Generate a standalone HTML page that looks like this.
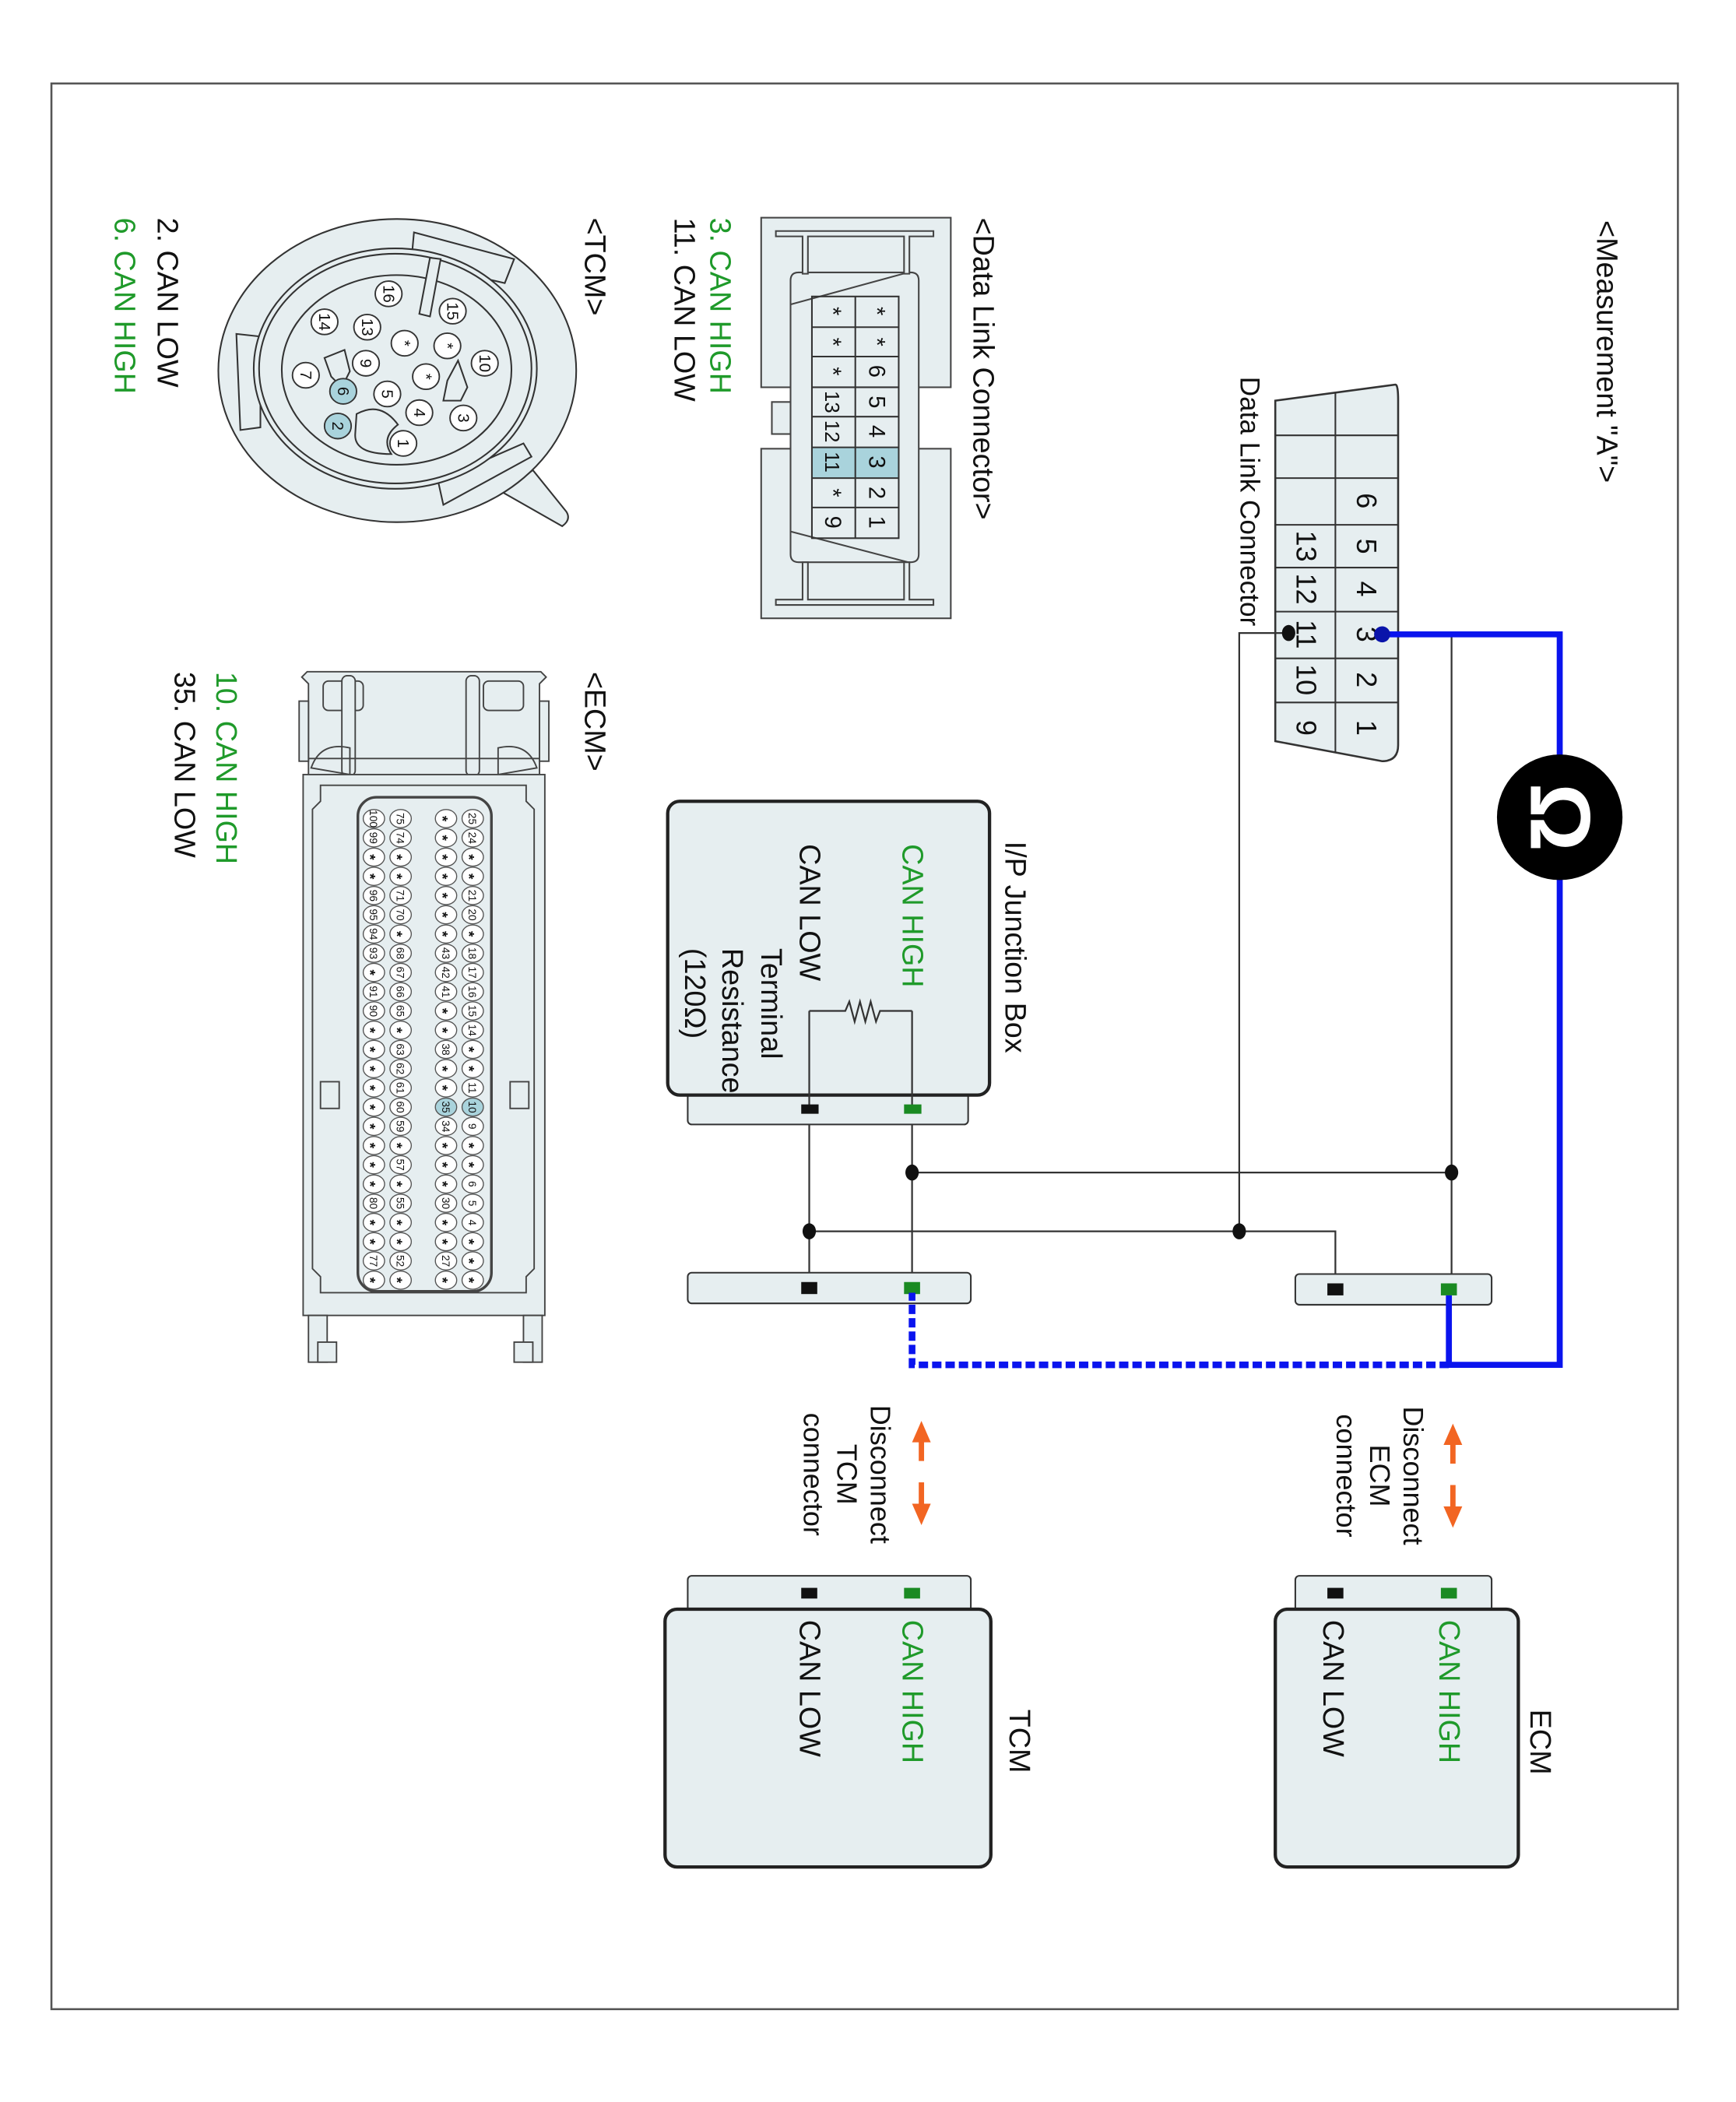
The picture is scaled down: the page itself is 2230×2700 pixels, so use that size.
<!DOCTYPE html>
<html><head><meta charset="utf-8"><style>
html,body{margin:0;padding:0;background:#fff;}
svg{display:block;}
text{font-family:"Liberation Sans",sans-serif;}
.p{font-size:8px;fill:#111;}
.s{font-size:11px;font-weight:bold;}
.t{font-size:22px;fill:#111;}
.g{font-size:22px;fill:#1f9a2a;}
</style></head><body>
<svg width="2230" height="2700" viewBox="0 0 1300 1574" xmlns="http://www.w3.org/2000/svg">
<rect x="0" y="0" width="1300" height="1574" fill="#fff"/>
<rect x="38.5" y="62.5" width="1218" height="1442" fill="none" stroke="#555" stroke-width="1.5"/>

<!-- Measurement A -->
<text class="t" transform="translate(1196,165) rotate(90)">&lt;Measurement "A"&gt;</text>
<path d="M955,300 L1045,288 Q1047,288 1047,300 L1047,558 Q1047,570 1035,570 L955,555 Z" fill="#e6eef0" stroke="#333" stroke-width="1.5"/>
<line x1="1000" y1="294" x2="1000" y2="563" stroke="#333" stroke-width="1.2"/>
<g stroke="#333" stroke-width="1.2">
<line x1="955" y1="326" x2="1047" y2="326"/><line x1="955" y1="358" x2="1047" y2="358"/>
<line x1="955" y1="393" x2="1047" y2="393"/><line x1="955" y1="425" x2="1047" y2="425"/>
<line x1="955" y1="458" x2="1047" y2="458"/><line x1="955" y1="493" x2="1047" y2="493"/>
<line x1="955" y1="526" x2="1047" y2="526"/>
</g>
<g style="font-size:21px" fill="#111" text-anchor="middle">
<text transform="translate(1016,375) rotate(90)">6</text>
<text transform="translate(1016,409) rotate(90)">5</text>
<text transform="translate(1016,441) rotate(90)">4</text>
<text transform="translate(1016,475) rotate(90)">3</text>
<text transform="translate(1016,509) rotate(90)">2</text>
<text transform="translate(1016,545) rotate(90)">1</text>
<text transform="translate(971,409) rotate(90)">13</text>
<text transform="translate(971,441) rotate(90)">12</text>
<text transform="translate(971,475) rotate(90)">11</text>
<text transform="translate(971,509) rotate(90)">10</text>
<text transform="translate(971,545) rotate(90)">9</text>
</g>
<text transform="translate(929,282) rotate(90)" style="font-size:20.5px" fill="#111">Data Link Connector</text>

<!-- wires -->
<g stroke="#333" stroke-width="1.3" fill="none">
<polyline points="965,474 928,474 928,922"/>
<line x1="1087" y1="475" x2="1087" y2="965"/>
<line x1="683" y1="878" x2="1087" y2="878"/>
<polyline points="606,922 1000,922 1000,965"/>
<line x1="683" y1="757" x2="683" y2="965"/>
<line x1="606" y1="757" x2="606" y2="965"/>
</g>
<g fill="#111">
<ellipse cx="965" cy="474" rx="5" ry="6"/>
<ellipse cx="1087" cy="878" rx="5" ry="6"/>
<ellipse cx="683" cy="878" rx="5" ry="6"/>
<ellipse cx="928" cy="922" rx="5" ry="6"/>
<ellipse cx="606" cy="922" rx="5" ry="6"/>
</g>

<!-- IP junction box -->
<rect x="515" y="818" width="210" height="24" rx="3" fill="#e6eef0" stroke="#333" stroke-width="1.2"/>
<rect x="500" y="600" width="241" height="220" rx="9" fill="#e6eef0" stroke="#222" stroke-width="2.5"/>
<line x1="683" y1="757" x2="683" y2="830" stroke="#333" stroke-width="1.3"/>
<line x1="606" y1="757" x2="606" y2="830" stroke="#333" stroke-width="1.3"/>
<polyline points="606,757 633,757 636,750 640,765 644,750 648,765 652,750 656,765 659,757 683,757" fill="none" stroke="#333" stroke-width="1.3"/>
<rect x="677" y="827" width="13" height="7" fill="#1a8a22"/>
<rect x="600" y="827" width="13" height="7" fill="#111"/>
<text class="t" transform="translate(753,630) rotate(90)">I/P Junction Box</text>
<text class="g" transform="translate(676,632) rotate(90)">CAN HIGH</text>
<text class="t" transform="translate(599,632) rotate(90)">CAN LOW</text>
<text class="t" transform="translate(570,710) rotate(90)">Terminal</text>
<text class="t" transform="translate(541,710) rotate(90)">Resistance</text>
<text class="t" transform="translate(513,710) rotate(90)">(120Ω)</text>

<!-- lower connector strips -->
<rect x="970" y="954" width="147" height="23" rx="3" fill="#e6eef0" stroke="#333" stroke-width="1.2"/>
<rect x="515" y="953" width="212" height="23" rx="3" fill="#e6eef0" stroke="#333" stroke-width="1.2"/>
<rect x="994" y="961" width="12" height="9" fill="#111"/>
<rect x="1079" y="961" width="12" height="9" fill="#1a8a22"/>
<rect x="600" y="960" width="12" height="9" fill="#111"/>
<rect x="677" y="960" width="12" height="9" fill="#1a8a22"/>

<!-- blue measurement wire -->
<polyline points="1035,475 1168,475 1168,1022 1085,1022 1085,970" fill="none" stroke="#0a14ee" stroke-width="4.5"/>
<polyline points="1085,1022 683,1022 683,968" fill="none" stroke="#0a14ee" stroke-width="5" stroke-dasharray="7,3"/>
<ellipse cx="1035" cy="475" rx="6" ry="6" fill="#0a14aa"/>
<circle cx="1168" cy="612" r="47" fill="#000"/>
<text transform="translate(1168,612) rotate(90)" text-anchor="middle" dominant-baseline="central" style="font-size:64px;font-weight:bold" fill="#fff">Ω</text>

<!-- orange arrows -->
<g stroke="#f26522" stroke-width="4" fill="#f26522">
<line x1="1088" y1="1080" x2="1088" y2="1096"/><line x1="1088" y1="1112" x2="1088" y2="1130"/>
<polygon points="1088,1066 1081,1082 1095,1082" stroke="none"/>
<polygon points="1088,1144 1081,1128 1095,1128" stroke="none"/>
<line x1="690" y1="1078" x2="690" y2="1094"/><line x1="690" y1="1110" x2="690" y2="1128"/>
<polygon points="690,1064 683,1080 697,1080" stroke="none"/>
<polygon points="690,1142 683,1126 697,1126" stroke="none"/>
</g>
<g style="font-size:21px" fill="#111" text-anchor="middle">
<text transform="translate(1051,1105) rotate(90)">Disconnect</text>
<text transform="translate(1026,1105) rotate(90)">ECM</text>
<text transform="translate(1001,1105) rotate(90)">connector</text>
<text transform="translate(652,1104) rotate(90)">Disconnect</text>
<text transform="translate(627,1104) rotate(90)">TCM</text>
<text transform="translate(602,1104) rotate(90)">connector</text>
</g>

<!-- ECM / TCM boxes -->
<rect x="970" y="1180" width="147" height="28" rx="3" fill="#e6eef0" stroke="#333" stroke-width="1.2"/>
<rect x="955" y="1205" width="182" height="193" rx="9" fill="#e6eef0" stroke="#222" stroke-width="2.5"/>
<rect x="994" y="1189" width="12" height="8" fill="#111"/>
<rect x="1079" y="1189" width="12" height="8" fill="#1a8a22"/>
<text class="t" transform="translate(1146,1280) rotate(90)">ECM</text>
<text class="g" transform="translate(1078,1213) rotate(90)">CAN HIGH</text>
<text class="t" transform="translate(991,1213) rotate(90)">CAN LOW</text>

<rect x="515" y="1180" width="212" height="28" rx="3" fill="#e6eef0" stroke="#333" stroke-width="1.2"/>
<rect x="498" y="1205" width="244" height="193" rx="9" fill="#e6eef0" stroke="#222" stroke-width="2.5"/>
<rect x="600" y="1189" width="12" height="8" fill="#111"/>
<rect x="677" y="1189" width="12" height="8" fill="#1a8a22"/>
<text class="t" transform="translate(756,1280) rotate(90)">TCM</text>
<text class="g" transform="translate(676,1213) rotate(90)">CAN HIGH</text>
<text class="t" transform="translate(599,1213) rotate(90)">CAN LOW</text>

<!-- Data Link Connector drawing -->
<text class="t" transform="translate(729,163) rotate(90)">&lt;Data Link Connector&gt;</text>
<g fill="#e6eef0" stroke="#444" stroke-width="1.2">
<rect x="570" y="163" width="142" height="127"/>
<rect x="570" y="336" width="142" height="127"/>
<rect x="578" y="301" width="14" height="24"/>
<path d="M592,210 Q592,204 598,204 L682,204 Q688,204 688,210 L688,415 Q688,421 682,421 L598,421 Q592,421 592,415 Z"/>
<path d="M592,228 L680,204 M592,398 L680,421" fill="none"/>
<path d="M581,173 L699,173 L699,177 L681,177 L681,205 L677,205 L677,177 L605,177 L605,205 L601,205 L601,177 L581,177 Z" fill="#e6eef0"/>
<path d="M581,453 L699,453 L699,449 L681,449 L681,421 L677,421 L677,449 L605,449 L605,421 L601,421 L601,449 L581,449 Z" fill="#e6eef0"/>
</g>
<rect x="608" y="335" width="65" height="23" fill="#a9d3dc"/>
<g stroke="#333" stroke-width="1.2" fill="none">
<rect x="608" y="222" width="65" height="181"/>
<line x1="640.5" y1="222" x2="640.5" y2="403"/>
<line x1="608" y1="245" x2="673" y2="245"/><line x1="608" y1="267" x2="673" y2="267"/>
<line x1="608" y1="290" x2="673" y2="290"/><line x1="608" y1="312" x2="673" y2="312"/>
<line x1="608" y1="335" x2="673" y2="335"/><line x1="608" y1="358" x2="673" y2="358"/>
<line x1="608" y1="380" x2="673" y2="380"/>
</g>
<g style="font-size:17px" fill="#111" text-anchor="middle">
<text transform="translate(651,233) rotate(90)">*</text>
<text transform="translate(651,256) rotate(90)">*</text>
<text transform="translate(651,278) rotate(90)">6</text>
<text transform="translate(651,301) rotate(90)">5</text>
<text transform="translate(651,323) rotate(90)">4</text>
<text transform="translate(651,346) rotate(90)">3</text>
<text transform="translate(651,369) rotate(90)">2</text>
<text transform="translate(651,391) rotate(90)">1</text>
<text transform="translate(618,233) rotate(90)">*</text>
<text transform="translate(618,256) rotate(90)">*</text>
<text transform="translate(618,278) rotate(90)">*</text>
<text transform="translate(618,301) rotate(90)" style="font-size:15px">13</text>
<text transform="translate(618,323) rotate(90)" style="font-size:15px">12</text>
<text transform="translate(618,346) rotate(90)" style="font-size:15px">11</text>
<text transform="translate(618,369) rotate(90)">*</text>
<text transform="translate(618,391) rotate(90)">9</text>
</g>
<text class="g" transform="translate(532,163) rotate(90)">3. CAN HIGH</text>
<text class="t" transform="translate(505,163) rotate(90)">11. CAN LOW</text>

<!-- TCM connector -->
<text class="t" transform="translate(438,163) rotate(90)">&lt;TCM&gt;</text>
<g stroke="#333" stroke-width="1.2" fill="#e6eef0">
<path d="M377,369 L421,394 Q428,389 424,383 L399,352 Z"/>
<ellipse cx="297.5" cy="277.5" rx="134" ry="113.5"/>
<path d="M310,174 L385,194 L378,212 L308,196 Z"/>
<path d="M177,250 L195,252 L195,320 L180,322 Z"/>
<path d="M328,360 L392,332 L398,342 L332,378 Z"/>
<ellipse cx="296" cy="276" rx="106" ry="90"/>
<ellipse cx="296" cy="276" rx="102" ry="86"/>
<ellipse cx="297" cy="277" rx="86" ry="71"/>
<path d="M322,193 L330,194 L322,237 L314,235 Z"/>
<path d="M258,262 L243,268 L248,282 L256,290 L262,278 Z" />
<path d="M343,270 L350,290 L345,300 L332,300 L335,285 Z"/>
<path d="M267,310 Q285,300 298,318 Q285,328 293,340 Q265,340 266,325 Z"/>
</g>
<g stroke="#333" stroke-width="1.1" fill="#fff">
<ellipse cx="291" cy="220" rx="10" ry="9.5"/>
<ellipse cx="339" cy="233" rx="10" ry="9.5"/>
<ellipse cx="243" cy="241" rx="10" ry="9.5"/>
<ellipse cx="275" cy="245" rx="10" ry="9.5"/>
<ellipse cx="303" cy="257" rx="10" ry="9.5"/>
<ellipse cx="335" cy="259" rx="10" ry="9.5"/>
<ellipse cx="363" cy="272" rx="10" ry="9.5"/>
<ellipse cx="274" cy="272" rx="10" ry="9.5"/>
<ellipse cx="229" cy="281" rx="10" ry="9.5"/>
<ellipse cx="319" cy="282" rx="10" ry="9.5"/>
<ellipse cx="257" cy="293" rx="10" ry="9.5" fill="#a9d3dc"/>
<ellipse cx="290" cy="295" rx="10" ry="9.5"/>
<ellipse cx="314" cy="309" rx="10" ry="9.5"/>
<ellipse cx="347" cy="313" rx="10" ry="9.5"/>
<ellipse cx="253" cy="319" rx="10" ry="9.5" fill="#a9d3dc"/>
<ellipse cx="302" cy="332" rx="10" ry="9.5"/>
</g>
<g style="font-size:12px" fill="#111" text-anchor="middle">
<text transform="translate(287,220) rotate(90)">16</text>
<text transform="translate(335,233) rotate(90)">15</text>
<text transform="translate(239,241) rotate(90)">14</text>
<text transform="translate(271,245) rotate(90)">13</text>
<text transform="translate(299,257) rotate(90)">*</text>
<text transform="translate(331,259) rotate(90)">*</text>
<text transform="translate(359,272) rotate(90)">10</text>
<text transform="translate(270,272) rotate(90)">9</text>
<text transform="translate(225,281) rotate(90)">7</text>
<text transform="translate(315,282) rotate(90)">*</text>
<text transform="translate(253,293) rotate(90)">6</text>
<text transform="translate(286,295) rotate(90)">5</text>
<text transform="translate(310,309) rotate(90)">4</text>
<text transform="translate(343,313) rotate(90)">3</text>
<text transform="translate(249,319) rotate(90)">2</text>
<text transform="translate(298,332) rotate(90)">1</text>
</g>
<text class="t" transform="translate(118,163) rotate(90)">2. CAN LOW</text>
<text class="g" transform="translate(86,163) rotate(90)">6. CAN HIGH</text>

<!-- ECM connector -->
<text class="t" transform="translate(438,503) rotate(90)">&lt;ECM&gt;</text>
<g stroke="#444" stroke-width="1.1" fill="#e6eef0">
<path d="M226,507 L230,503 L405,503 L409,507 L404,512 L404,580 L231,580 L231,512 Z"/>
<rect x="224" y="525" width="7" height="45"/>
<rect x="404" y="525" width="7" height="45"/>
<rect x="242" y="510" width="30" height="22" rx="4"/>
<rect x="362" y="510" width="30" height="22" rx="4"/>
<rect x="256" y="506" width="10" height="75" rx="4"/>
<rect x="349" y="506" width="10" height="75" rx="4"/>
<path d="M233,575 Q240,555 262,560 L262,580 Z" fill="none"/>
<path d="M402,575 Q395,555 373,560 L373,580 Z" fill="none"/>
<line x1="231" y1="568" x2="404" y2="568"/>
<rect x="227" y="580" width="181" height="405"/>
<path d="M240,588 L394,588 L394,600 L400,606 L400,950 L394,956 L394,968 L240,968 L240,956 L234,950 L234,606 L240,600 Z"/>
<rect x="268" y="597" width="100" height="370" rx="14" stroke-width="2"/>
<rect x="231" y="985" width="14" height="35"/>
<rect x="392" y="985" width="14" height="35"/>
<rect x="238" y="1005" width="14" height="15"/>
<rect x="385" y="1005" width="14" height="15"/>
<rect x="240" y="810" width="14" height="20"/>
<rect x="382" y="810" width="14" height="20"/>
</g>
<g stroke="#555" stroke-width="0.8" fill="#fff">
<ellipse cx="280" cy="613" rx="8" ry="6.8"/><ellipse cx="300" cy="613" rx="8" ry="6.8"/><ellipse cx="334" cy="613" rx="8" ry="6.8"/><ellipse cx="354" cy="613" rx="8" ry="6.8"/>
<ellipse cx="280" cy="627.4" rx="8" ry="6.8"/><ellipse cx="300" cy="627.4" rx="8" ry="6.8"/><ellipse cx="334" cy="627.4" rx="8" ry="6.8"/><ellipse cx="354" cy="627.4" rx="8" ry="6.8"/>
<ellipse cx="280" cy="641.8" rx="8" ry="6.8"/><ellipse cx="300" cy="641.8" rx="8" ry="6.8"/><ellipse cx="334" cy="641.8" rx="8" ry="6.8"/><ellipse cx="354" cy="641.8" rx="8" ry="6.8"/>
<ellipse cx="280" cy="656.2" rx="8" ry="6.8"/><ellipse cx="300" cy="656.2" rx="8" ry="6.8"/><ellipse cx="334" cy="656.2" rx="8" ry="6.8"/><ellipse cx="354" cy="656.2" rx="8" ry="6.8"/>
<ellipse cx="280" cy="670.6" rx="8" ry="6.8"/><ellipse cx="300" cy="670.6" rx="8" ry="6.8"/><ellipse cx="334" cy="670.6" rx="8" ry="6.8"/><ellipse cx="354" cy="670.6" rx="8" ry="6.8"/>
<ellipse cx="280" cy="685" rx="8" ry="6.8"/><ellipse cx="300" cy="685" rx="8" ry="6.8"/><ellipse cx="334" cy="685" rx="8" ry="6.8"/><ellipse cx="354" cy="685" rx="8" ry="6.8"/>
<ellipse cx="280" cy="699.4" rx="8" ry="6.8"/><ellipse cx="300" cy="699.4" rx="8" ry="6.8"/><ellipse cx="334" cy="699.4" rx="8" ry="6.8"/><ellipse cx="354" cy="699.4" rx="8" ry="6.8"/>
<ellipse cx="280" cy="713.8" rx="8" ry="6.8"/><ellipse cx="300" cy="713.8" rx="8" ry="6.8"/><ellipse cx="334" cy="713.8" rx="8" ry="6.8"/><ellipse cx="354" cy="713.8" rx="8" ry="6.8"/>
<ellipse cx="280" cy="728.2" rx="8" ry="6.8"/><ellipse cx="300" cy="728.2" rx="8" ry="6.8"/><ellipse cx="334" cy="728.2" rx="8" ry="6.8"/><ellipse cx="354" cy="728.2" rx="8" ry="6.8"/>
<ellipse cx="280" cy="742.6" rx="8" ry="6.8"/><ellipse cx="300" cy="742.6" rx="8" ry="6.8"/><ellipse cx="334" cy="742.6" rx="8" ry="6.8"/><ellipse cx="354" cy="742.6" rx="8" ry="6.8"/>
<ellipse cx="280" cy="757" rx="8" ry="6.8"/><ellipse cx="300" cy="757" rx="8" ry="6.8"/><ellipse cx="334" cy="757" rx="8" ry="6.8"/><ellipse cx="354" cy="757" rx="8" ry="6.8"/>
<ellipse cx="280" cy="771.4" rx="8" ry="6.8"/><ellipse cx="300" cy="771.4" rx="8" ry="6.8"/><ellipse cx="334" cy="771.4" rx="8" ry="6.8"/><ellipse cx="354" cy="771.4" rx="8" ry="6.8"/>
<ellipse cx="280" cy="785.8" rx="8" ry="6.8"/><ellipse cx="300" cy="785.8" rx="8" ry="6.8"/><ellipse cx="334" cy="785.8" rx="8" ry="6.8"/><ellipse cx="354" cy="785.8" rx="8" ry="6.8"/>
<ellipse cx="280" cy="800.2" rx="8" ry="6.8"/><ellipse cx="300" cy="800.2" rx="8" ry="6.8"/><ellipse cx="334" cy="800.2" rx="8" ry="6.8"/><ellipse cx="354" cy="800.2" rx="8" ry="6.8"/>
<ellipse cx="280" cy="814.6" rx="8" ry="6.8"/><ellipse cx="300" cy="814.6" rx="8" ry="6.8"/><ellipse cx="334" cy="814.6" rx="8" ry="6.8"/><ellipse cx="354" cy="814.6" rx="8" ry="6.8"/>
<ellipse cx="280" cy="829" rx="8" ry="6.8"/><ellipse cx="300" cy="829" rx="8" ry="6.8"/><ellipse cx="334" cy="829" rx="8" ry="6.8" fill="#a9d3dc"/><ellipse cx="354" cy="829" rx="8" ry="6.8" fill="#a9d3dc"/>
<ellipse cx="280" cy="843.4" rx="8" ry="6.8"/><ellipse cx="300" cy="843.4" rx="8" ry="6.8"/><ellipse cx="334" cy="843.4" rx="8" ry="6.8"/><ellipse cx="354" cy="843.4" rx="8" ry="6.8"/>
<ellipse cx="280" cy="857.8" rx="8" ry="6.8"/><ellipse cx="300" cy="857.8" rx="8" ry="6.8"/><ellipse cx="334" cy="857.8" rx="8" ry="6.8"/><ellipse cx="354" cy="857.8" rx="8" ry="6.8"/>
<ellipse cx="280" cy="872.2" rx="8" ry="6.8"/><ellipse cx="300" cy="872.2" rx="8" ry="6.8"/><ellipse cx="334" cy="872.2" rx="8" ry="6.8"/><ellipse cx="354" cy="872.2" rx="8" ry="6.8"/>
<ellipse cx="280" cy="886.6" rx="8" ry="6.8"/><ellipse cx="300" cy="886.6" rx="8" ry="6.8"/><ellipse cx="334" cy="886.6" rx="8" ry="6.8"/><ellipse cx="354" cy="886.6" rx="8" ry="6.8"/>
<ellipse cx="280" cy="901" rx="8" ry="6.8"/><ellipse cx="300" cy="901" rx="8" ry="6.8"/><ellipse cx="334" cy="901" rx="8" ry="6.8"/><ellipse cx="354" cy="901" rx="8" ry="6.8"/>
<ellipse cx="280" cy="915.4" rx="8" ry="6.8"/><ellipse cx="300" cy="915.4" rx="8" ry="6.8"/><ellipse cx="334" cy="915.4" rx="8" ry="6.8"/><ellipse cx="354" cy="915.4" rx="8" ry="6.8"/>
<ellipse cx="280" cy="929.8" rx="8" ry="6.8"/><ellipse cx="300" cy="929.8" rx="8" ry="6.8"/><ellipse cx="334" cy="929.8" rx="8" ry="6.8"/><ellipse cx="354" cy="929.8" rx="8" ry="6.8"/>
<ellipse cx="280" cy="944.2" rx="8" ry="6.8"/><ellipse cx="300" cy="944.2" rx="8" ry="6.8"/><ellipse cx="334" cy="944.2" rx="8" ry="6.8"/><ellipse cx="354" cy="944.2" rx="8" ry="6.8"/>
<ellipse cx="280" cy="958.6" rx="8" ry="6.8"/><ellipse cx="300" cy="958.6" rx="8" ry="6.8"/><ellipse cx="334" cy="958.6" rx="8" ry="6.8"/><ellipse cx="354" cy="958.6" rx="8" ry="6.8"/>
</g>
<g class="p" text-anchor="middle">
<text transform="translate(277,613) rotate(90)">100</text><text transform="translate(297,613) rotate(90)">75</text><text class="s" transform="translate(327.5,613) rotate(90)">*</text><text transform="translate(351,613) rotate(90)">25</text>
<text transform="translate(277,627.4) rotate(90)">99</text><text transform="translate(297,627.4) rotate(90)">74</text><text class="s" transform="translate(327.5,627.4) rotate(90)">*</text><text transform="translate(351,627.4) rotate(90)">24</text>
<text class="s" transform="translate(273.5,641.8) rotate(90)">*</text><text class="s" transform="translate(293.5,641.8) rotate(90)">*</text><text class="s" transform="translate(327.5,641.8) rotate(90)">*</text><text class="s" transform="translate(347.5,641.8) rotate(90)">*</text>
<text class="s" transform="translate(273.5,656.2) rotate(90)">*</text><text class="s" transform="translate(293.5,656.2) rotate(90)">*</text><text class="s" transform="translate(327.5,656.2) rotate(90)">*</text><text class="s" transform="translate(347.5,656.2) rotate(90)">*</text>
<text transform="translate(277,670.6) rotate(90)">96</text><text transform="translate(297,670.6) rotate(90)">71</text><text class="s" transform="translate(327.5,670.6) rotate(90)">*</text><text transform="translate(351,670.6) rotate(90)">21</text>
<text transform="translate(277,685) rotate(90)">95</text><text transform="translate(297,685) rotate(90)">70</text><text class="s" transform="translate(327.5,685) rotate(90)">*</text><text transform="translate(351,685) rotate(90)">20</text>
<text transform="translate(277,699.4) rotate(90)">94</text><text class="s" transform="translate(293.5,699.4) rotate(90)">*</text><text class="s" transform="translate(327.5,699.4) rotate(90)">*</text><text class="s" transform="translate(347.5,699.4) rotate(90)">*</text>
<text transform="translate(277,713.8) rotate(90)">93</text><text transform="translate(297,713.8) rotate(90)">68</text><text transform="translate(331,713.8) rotate(90)">43</text><text transform="translate(351,713.8) rotate(90)">18</text>
<text class="s" transform="translate(273.5,728.2) rotate(90)">*</text><text transform="translate(297,728.2) rotate(90)">67</text><text transform="translate(331,728.2) rotate(90)">42</text><text transform="translate(351,728.2) rotate(90)">17</text>
<text transform="translate(277,742.6) rotate(90)">91</text><text transform="translate(297,742.6) rotate(90)">66</text><text transform="translate(331,742.6) rotate(90)">41</text><text transform="translate(351,742.6) rotate(90)">16</text>
<text transform="translate(277,757) rotate(90)">90</text><text transform="translate(297,757) rotate(90)">65</text><text class="s" transform="translate(327.5,757) rotate(90)">*</text><text transform="translate(351,757) rotate(90)">15</text>
<text class="s" transform="translate(273.5,771.4) rotate(90)">*</text><text class="s" transform="translate(293.5,771.4) rotate(90)">*</text><text class="s" transform="translate(327.5,771.4) rotate(90)">*</text><text transform="translate(351,771.4) rotate(90)">14</text>
<text class="s" transform="translate(273.5,785.8) rotate(90)">*</text><text transform="translate(297,785.8) rotate(90)">63</text><text transform="translate(331,785.8) rotate(90)">38</text><text class="s" transform="translate(347.5,785.8) rotate(90)">*</text>
<text class="s" transform="translate(273.5,800.2) rotate(90)">*</text><text transform="translate(297,800.2) rotate(90)">62</text><text class="s" transform="translate(327.5,800.2) rotate(90)">*</text><text class="s" transform="translate(347.5,800.2) rotate(90)">*</text>
<text class="s" transform="translate(273.5,814.6) rotate(90)">*</text><text transform="translate(297,814.6) rotate(90)">61</text><text class="s" transform="translate(327.5,814.6) rotate(90)">*</text><text transform="translate(351,814.6) rotate(90)">11</text>
<text class="s" transform="translate(273.5,829) rotate(90)">*</text><text transform="translate(297,829) rotate(90)">60</text><text transform="translate(331,829) rotate(90)">35</text><text transform="translate(351,829) rotate(90)">10</text>
<text class="s" transform="translate(273.5,843.4) rotate(90)">*</text><text transform="translate(297,843.4) rotate(90)">59</text><text transform="translate(331,843.4) rotate(90)">34</text><text transform="translate(351,843.4) rotate(90)">9</text>
<text class="s" transform="translate(273.5,857.8) rotate(90)">*</text><text class="s" transform="translate(293.5,857.8) rotate(90)">*</text><text class="s" transform="translate(327.5,857.8) rotate(90)">*</text><text class="s" transform="translate(347.5,857.8) rotate(90)">*</text>
<text class="s" transform="translate(273.5,872.2) rotate(90)">*</text><text transform="translate(297,872.2) rotate(90)">57</text><text class="s" transform="translate(327.5,872.2) rotate(90)">*</text><text class="s" transform="translate(347.5,872.2) rotate(90)">*</text>
<text class="s" transform="translate(273.5,886.6) rotate(90)">*</text><text class="s" transform="translate(293.5,886.6) rotate(90)">*</text><text class="s" transform="translate(327.5,886.6) rotate(90)">*</text><text transform="translate(351,886.6) rotate(90)">6</text>
<text transform="translate(277,901) rotate(90)">80</text><text transform="translate(297,901) rotate(90)">55</text><text transform="translate(331,901) rotate(90)">30</text><text transform="translate(351,901) rotate(90)">5</text>
<text class="s" transform="translate(273.5,915.4) rotate(90)">*</text><text class="s" transform="translate(293.5,915.4) rotate(90)">*</text><text class="s" transform="translate(327.5,915.4) rotate(90)">*</text><text transform="translate(351,915.4) rotate(90)">4</text>
<text class="s" transform="translate(273.5,929.8) rotate(90)">*</text><text class="s" transform="translate(293.5,929.8) rotate(90)">*</text><text class="s" transform="translate(327.5,929.8) rotate(90)">*</text><text class="s" transform="translate(347.5,929.8) rotate(90)">*</text>
<text transform="translate(277,944.2) rotate(90)">77</text><text transform="translate(297,944.2) rotate(90)">52</text><text transform="translate(331,944.2) rotate(90)">27</text><text class="s" transform="translate(347.5,944.2) rotate(90)">*</text>
<text class="s" transform="translate(273.5,958.6) rotate(90)">*</text><text class="s" transform="translate(293.5,958.6) rotate(90)">*</text><text class="s" transform="translate(327.5,958.6) rotate(90)">*</text><text class="s" transform="translate(347.5,958.6) rotate(90)">*</text>
</g>
<text class="g" transform="translate(162,503) rotate(90)">10. CAN HIGH</text>
<text class="t" transform="translate(131,503) rotate(90)">35. CAN LOW</text>
</svg>
</body></html>
